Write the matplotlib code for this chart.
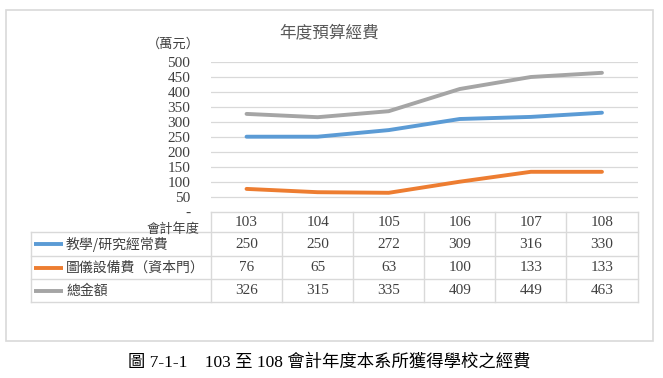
import matplotlib
matplotlib.use("Agg")
import matplotlib.pyplot as plt
from matplotlib.patches import Rectangle

# data
years = ["103", "104", "105", "106", "107", "108"]
teaching = [250, 250, 272, 309, 316, 330]
equipment = [76, 65, 63, 100, 133, 133]
total = [326, 315, 335, 409, 449, 463]
series_names = ["教學/研究經常費", "圖儀設備費（資本門）", "總金額"]
series_colors = ["#5B9BD5", "#ED7D31", "#A5A5A5"]
y_ticks = [0, 50, 100, 150, 200, 250, 300, 350, 400, 450, 500]

title = "年度預算經費"
unit_label = "（萬元）"
corner_label = "會計年度"
caption = "圖 7-1-1\u3000103 至 108 會計年度本系所獲得學校之經費"

W, H = 663, 378
CJK = ["Noto Sans CJK TC", "DejaVu Sans"]
SERIF = ["Liberation Serif", "Noto Sans CJK TC"]
GRID = "#D9D9D9"
TXT = "#404040"

# layout in pixels
plot_l, plot_r = 211.0, 637.5
plot_top, plot_bot = 61.7, 211.7
table_l = 31.0
row_h = [20.6, 23.7, 23.3, 23.0]


def fx(x):
    return x / W


def fy(y):
    return 1 - y / H


fig = plt.figure(figsize=(W / 100, H / 100), dpi=100)

# outer frame
fig.patches.append(Rectangle((fx(5.5), fy(341.3)), fx(653.3) - fx(5.5), fy(10.3) - fy(341.3),
                             transform=fig.transFigure, fill=False, edgecolor=GRID, linewidth=1.2))

# line chart
ax = fig.add_axes([fx(plot_l), fy(plot_bot), fx(plot_r) - fx(plot_l), fy(plot_top) - fy(plot_bot)])
xs = list(range(len(years)))
for vals, color in zip([teaching, equipment, total], series_colors):
    ax.plot(xs, vals, color=color, linewidth=2.8, solid_capstyle="round", zorder=3)
ax.set_xlim(-0.5, len(years) - 0.5)
ax.set_ylim(0, 500)
ax.set_yticks(y_ticks)
ax.set_yticklabels(["-" if v == 0 else str(v) for v in y_ticks], family=SERIF, fontsize=11, color=TXT)
ax.tick_params(axis="y", length=0, pad=15)
ax.set_xticks([])
for v in y_ticks[1:]:
    ax.axhline(v, color=GRID, linewidth=0.9, zorder=1)
for s in ax.spines.values():
    s.set_visible(False)

fig.text(0.5 - 0.003, fy(33), title, family=CJK, fontsize=12, color="#595959", ha="center", va="center")
fig.text(fx(173.5), fy(44.5), unit_label, family=CJK, fontsize=9.5, color=TXT, ha="center", va="center")

# data table under the chart, x in category units
col_w = (plot_r - plot_l) / len(years)


def px_col(x):
    return (x - plot_l) / col_w - 0.5


table_bot = plot_bot + sum(row_h)
tax = fig.add_axes([fx(table_l), fy(table_bot), fx(plot_r) - fx(table_l), fy(plot_bot) - fy(table_bot)])
tax.set_xlim(px_col(table_l), len(years) - 0.5)
tax.set_ylim(sum(row_h), 0)
tax.axis("off")

bounds = [0]
for h in row_h:
    bounds.append(bounds[-1] + h)
x_first = -0.5
x_left = px_col(table_l)
x_right = len(years) - 0.5

# horizontal lines
tax.plot([x_first, x_right], [bounds[0], bounds[0]], color=GRID, linewidth=1.0, clip_on=False)
for b in bounds[1:]:
    tax.plot([x_left, x_right], [b, b], color=GRID, linewidth=1.0, clip_on=False)
# vertical lines
for i in range(len(years) + 1):
    tax.plot([i - 0.5, i - 0.5], [bounds[0], bounds[-1]], color=GRID, linewidth=1.0, clip_on=False)
tax.plot([x_left, x_left], [bounds[1], bounds[-1]], color=GRID, linewidth=1.0, clip_on=False)

# header
hc = (bounds[0] + bounds[1]) / 2
for i, yr in enumerate(years):
    tax.text(i, hc, yr, family=SERIF, fontsize=11, color=TXT, ha="center", va="center")
tax.text(px_col(199), 17.5, corner_label, family=CJK, fontsize=9.5, color=TXT, ha="right", va="center")

# series rows
for r, (name, vals, color) in enumerate(zip(series_names, [teaching, equipment, total], series_colors)):
    yc = (bounds[r + 1] + bounds[r + 2]) / 2
    tax.plot([px_col(34), px_col(63)], [yc, yc], color=color, linewidth=2.8, solid_capstyle="butt")
    tax.text(px_col(66), yc, name, family=CJK, fontsize=10, color=TXT, ha="left", va="center")
    for i, v in enumerate(vals):
        tax.text(i, yc, str(v), family=SERIF, fontsize=11, color=TXT, ha="center", va="center")

fig.text(0.5 - 0.003, fy(362), caption, family=SERIF, fontsize=12.5, color="black", ha="center", va="center")

fig.savefig("out.png", dpi=100)
